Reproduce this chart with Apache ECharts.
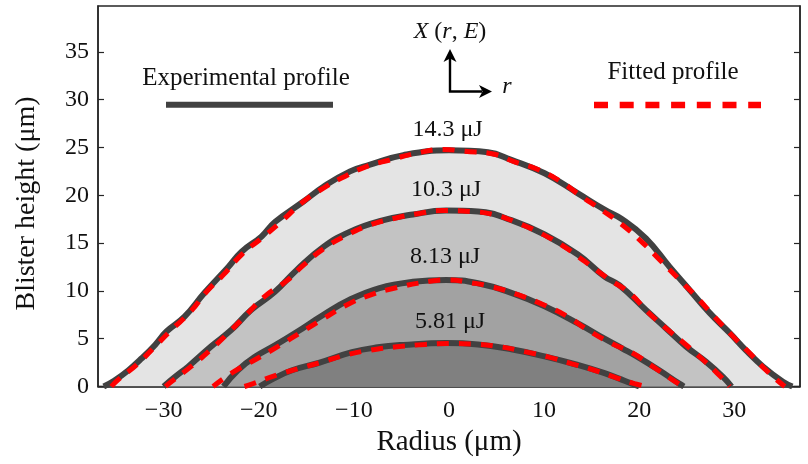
<!DOCTYPE html>
<html>
<head>
<meta charset="utf-8">
<script src="https://cdn.jsdelivr.net/npm/echarts@6/dist/echarts.min.js"></script>
<style>
  html, body { margin: 0; padding: 0; background: #fff; }
  #chart { width: 808px; height: 464px; }
</style>
</head>
<body>
<div id="chart"></div>
<script>
// Blister profiles [radius µm, height µm] for four pulse energies
const energies = ['14.3 μJ', '10.3 μJ', '8.13 μJ', '5.81 μJ'];

const exp143 = [[-36.3,0],[-35.2,0.6],[-33.7,1.7],[-32.3,2.95],[-30.9,4.35],[-29.7,5.75],[-27.8,7.3],[-25.7,9.8],[-23.2,12.5],[-21.8,14.1],[-19.7,15.7],[-18.3,17.2],[-15.3,19.35],[-13.2,20.9],[-10.4,22.5],[-8.3,23.2],[-4.8,24.2],[0,24.7],[4.1,24.5],[6.55,23.7],[10.05,22.3],[13.55,20.2],[16.35,18.5],[18.2,17.5],[20.7,15.5],[23.2,12.5],[25.3,10.1],[27.4,7.7],[29.5,5.6],[31.2,3.8],[33.0,2.1],[35.1,0.5],[36.1,0]];
const exp103 = [[-30.0,0],[-28.8,1.0],[-27.4,2.1],[-25.0,4.2],[-22.9,5.9],[-20.8,8.0],[-18.3,9.9],[-16.0,12.2],[-13.2,14.6],[-10.4,16.2],[-7.3,17.3],[-3.8,18.0],[-0.3,18.4],[3.05,18.3],[6.55,17.4],[10.05,15.9],[13.55,13.8],[16.35,11.5],[17.9,10.6],[20.7,8.0],[22.8,6.1],[24.9,4.2],[27.0,2.6],[28.8,1.0],[29.7,0]];
const exp813 = [[-23.7,0],[-22.2,1.7],[-20.4,3.1],[-18.3,4.3],[-16.0,5.7],[-13.2,7.5],[-10.4,9.1],[-7.3,10.3],[-3.8,10.95],[-0.3,11.15],[3.05,10.8],[6.55,9.8],[10.05,8.4],[13.55,6.6],[16.35,5.0],[18.2,4.0],[20.0,3.0],[22.1,1.7],[24.2,0.3],[24.7,0]];
const exp581 = [[-19.9,0],[-18.5,0.8],[-16.5,1.7],[-13.6,2.5],[-10.2,3.6],[-7.5,4.1],[-4.8,4.35],[-0.3,4.55],[3.05,4.4],[6.55,3.9],[10.05,3.15],[13.55,2.25],[16.35,1.4],[18.45,0.6],[20.0,0]];

const fit143 = [[-35.5,0],[-34.8,0.7],[-32.7,2.4],[-30.9,4.2],[-29.2,5.9],[-27.2,7.8],[-25.5,9.9],[-23.7,11.7],[-21.8,13.8],[-19.7,15.5],[-17.8,17.1],[-15.3,19.35],[-13.2,20.75],[-11.3,21.8],[-8.7,23.0],[-6.2,23.7],[-3.4,24.4],[-0.6,24.8],[1.6,24.6],[4.5,24.35],[6.9,23.5],[9.35,22.7],[11.8,21.4],[13.9,19.9],[16.0,18.5],[18.1,17.0],[20.4,15.0],[22.3,13.1],[24.2,11.2],[26.0,9.4],[27.9,7.3],[29.7,5.4],[31.6,3.5],[33.5,1.55],[35.3,0]];
const fit103 = [[-29.8,0],[-29.2,0.5],[-27.1,2.1],[-25.1,3.8],[-23.2,5.6],[-21.3,7.5],[-19.4,9.4],[-17.0,11.1],[-15.3,12.7],[-12.9,14.6],[-10.4,16.0],[-8.3,16.9],[-5.7,17.6],[-3.1,18.1],[-0.6,18.4],[2.35,18.3],[4.8,17.96],[7.25,17.1],[9.7,16.0],[12.15,14.6],[14.25,13.1],[16.7,11.3],[19.0,9.76],[20.9,7.8],[22.8,6.1],[24.75,4.5],[26.7,2.8],[28.6,1.0],[29.5,0]];
const fit813 = [[-24.8,0],[-22.7,1.5],[-20.2,2.9],[-17.8,4.3],[-15.5,5.7],[-13.2,7.1],[-10.8,8.5],[-8.3,9.55],[-5.9,10.25],[-2.0,11.0],[0,11.15],[2.0,10.9],[4.45,10.45],[7.25,9.6],[10.05,8.5],[12.5,7.3],[14.6,5.9],[17.1,4.5],[19.3,3.5],[21.4,2.1],[23.5,0.7],[24.6,0]];
const fit581 = [[-21.5,0],[-20.6,0.3],[-18.1,1.2],[-15.7,1.9],[-13.2,2.6],[-10.8,3.3],[-8.3,3.8],[-5.5,4.15],[-2.5,4.4],[0,4.5],[2.35,4.45],[5.1,4.2],[7.95,3.65],[10.4,3.1],[12.85,2.4],[15.3,1.7],[17.75,0.86],[19.5,0.3],[20.8,0]];

const xTicks = [-30, -20, -10, 0, 10, 20, 30];
const yTicks = [0, 5, 10, 15, 20, 25, 30, 35];

const experimental = [exp143, exp103, exp813, exp581];
const fitted = [fit143, fit103, fit813, fit581];
const fills = ['#e4e4e4', '#c3c3c3', '#a2a2a2', '#808080'];

const SERIF = '"Liberation Serif", "DejaVu Serif", serif';
const FRAME = '#262626';

const series = [];
// fitted outlines: highest z so they sit above the measured outlines
fitted.forEach((d, i) => {
  series.push({
    name: 'Fitted profile ' + energies[i],
    type: 'line', data: d, showSymbol: false, smooth: 0.5,
    lineStyle: { color: '#ff0000', width: 5, type: [12, 10], dashOffset: 0, cap: 'butt' },
    z: 6
  });
});
// measured outlines
experimental.forEach((d, i) => {
  series.push({
    name: 'Experimental profile ' + energies[i],
    type: 'line', data: d, showSymbol: false, smooth: 0.45,
    lineStyle: { color: '#414141', width: 6, join: 'round' },
    z: 4
  });
});
// shaded blister cross-sections, largest first
experimental.forEach((d, i) => {
  series.push({
    name: 'Blister ' + energies[i],
    type: 'line', data: d, showSymbol: false, smooth: 0.45,
    lineStyle: { width: 0, opacity: 0 },
    areaStyle: { color: fills[i], opacity: 1 },
    z: 1, z2: i
  });
});

const chart = echarts.init(document.getElementById('chart'), null, { renderer: 'canvas' });

const text = (x, y, str, size, extra) => Object.assign({
  type: 'text', x: x, y: y, z: 10,
  style: { text: str, font: size + 'px ' + SERIF, fill: '#111', align: 'center', verticalAlign: 'middle' }
}, extra || {});

chart.setOption({
  animation: false,
  backgroundColor: '#fff',
  grid: { left: 98, right: 8, top: 6, bottom: 77.5, show: true, borderColor: FRAME, borderWidth: 1.5, backgroundColor: 'transparent' },
  xAxis: [{
    type: 'value', min: -36.9, max: 36.9,
    name: 'Radius (μm)', nameLocation: 'middle', nameGap: 41,
    nameTextStyle: { fontFamily: SERIF, fontSize: 29, color: '#111' },
    axisLine: { show: true, onZero: false, lineStyle: { color: FRAME, width: 1.5 } },
    axisTick: { show: true, inside: true, length: 6, customValues: xTicks, lineStyle: { color: FRAME, width: 1.2 } },
    axisLabel: { customValues: xTicks, fontFamily: SERIF, fontSize: 24, color: '#111', margin: 12,
      formatter: v => (v < 0 ? '\u2212' + (-v) : String(v)) },
    splitLine: { show: false }
  }],
  yAxis: [{
    type: 'value', min: 0, max: 39.8,
    axisLine: { show: true, onZero: false, lineStyle: { color: FRAME, width: 1.5 } },
    axisTick: { show: true, inside: true, length: 6, customValues: yTicks, lineStyle: { color: FRAME, width: 1.2 } },
    axisLabel: { customValues: yTicks, fontFamily: SERIF, fontSize: 24, color: '#111', margin: 9 },
    splitLine: { show: false }
  }, {
    type: 'value', min: 0, max: 39.8, position: 'right',
    axisLine: { show: true, onZero: false, lineStyle: { color: FRAME, width: 1.5 } },
    axisTick: { show: true, inside: true, length: 6, customValues: yTicks, lineStyle: { color: FRAME, width: 1.2 } },
    axisLabel: { show: false },
    splitLine: { show: false }
  }],
  series: series,
  graphic: [
    text(27, 203.5, 'Blister height (μm)', 28, { rotation: Math.PI / 2 }),
    // legend keys
    text(246, 78, 'Experimental profile', 25),
    { type: 'line', z: 10, shape: { x1: 166, y1: 104.7, x2: 333, y2: 104.7 }, style: { stroke: '#414141', lineWidth: 6 } },
    text(673, 72, 'Fitted profile', 25),
    { type: 'line', z: 10, shape: { x1: 594, y1: 105, x2: 761, y2: 105 }, style: { stroke: '#ff0000', lineWidth: 6.5, lineDash: [14, 11.7], lineCap: 'butt' } },
    // coordinate sketch
    { type: 'text', x: 450, y: 32, z: 10, style: {
        text: '{i|X} ({i|r}, {i|E})', font: '24px ' + SERIF, fill: '#111', align: 'center', verticalAlign: 'middle',
        rich: { i: { fontStyle: 'italic', fontFamily: SERIF, fontSize: 24, fill: '#111' } } } },
    { type: 'polyline', z: 10, shape: { points: [[450, 58], [450, 91.5], [482, 91.5]] }, style: { stroke: '#000', lineWidth: 2.4, fill: null } },
    { type: 'polygon', z: 10, shape: { points: [[450, 49], [456.5, 62], [450, 58.5], [443.5, 62]] }, style: { fill: '#000' } },
    { type: 'polygon', z: 10, shape: { points: [[492, 91.5], [479, 85], [482.5, 91.5], [479, 98]] }, style: { fill: '#000' } },
    text(507, 87, 'r', 24, { style: { text: 'r', font: 'italic 24px ' + SERIF, fill: '#111', align: 'center', verticalAlign: 'middle' } }),
    // energy labels
    text(447.5, 129.5, energies[0], 24),
    text(446, 189.5, energies[1], 24),
    text(445, 257, energies[2], 24),
    text(450, 322, energies[3], 24)
  ]
});
</script>
</body>
</html>
